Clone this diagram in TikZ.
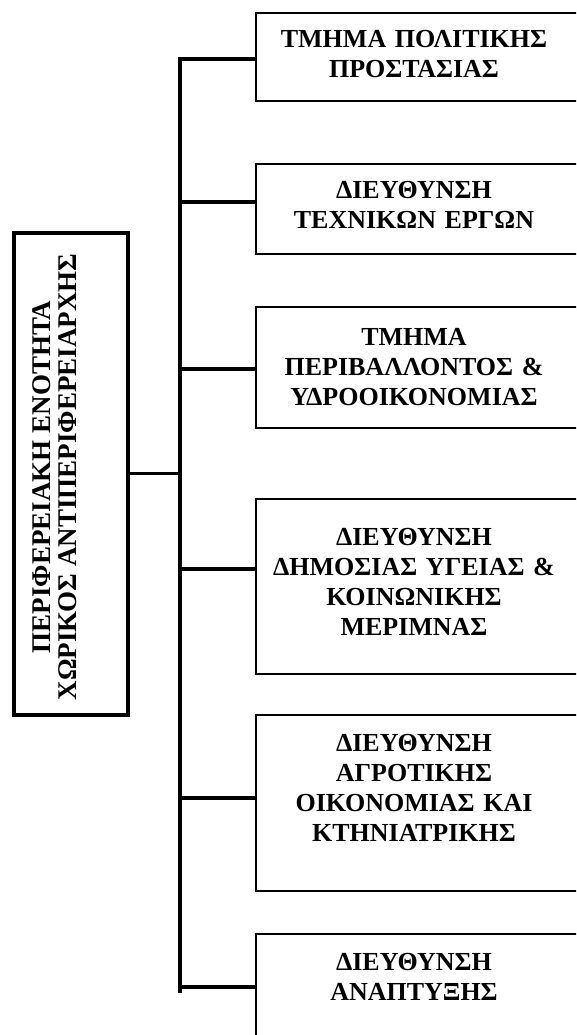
\documentclass[tikz,border=0pt]{standalone}
\usepackage{fontspec}
\setmainfont{Liberation Serif}
\usetikzlibrary{calc}

\tikzset{
    unit/.style={draw, line width=1.8pt, minimum width=330pt, anchor=north west},
    unittext/.style={font=\bfseries\fontsize{26}{30}\selectfont, text width=316pt, align=center, inner sep=0pt},
    link/.style={line width=3.2pt}
}

\begin{document}
\begin{tikzpicture}[x=1pt, y=-1pt]
        \useasboundingbox (0,0) rectangle (576,1035);
        \clip (0,0) rectangle (576,1035);

        %coordinates
        \coordinate (j1) at (180,59);
        \coordinate (j2) at (180,202);
        \coordinate (j3) at (180,369);
        \coordinate (j4) at (180,569);
        \coordinate (j5) at (180,798);
        \coordinate (j6) at (180,987);
        \coordinate (end) at (180,993);

        %nodes
        \node[draw, line width=3.5pt, minimum width=114pt, minimum height=482pt, anchor=north west] (hq) at (12,231) {};
        \node[rotate=90, font=\bfseries\fontsize{27}{26}\selectfont, align=center, inner sep=0pt] (hqt) at (55,477) {ΠΕΡΙΦΕΡΕΙΑΚΗ ΕΝΟΤΗΤΑ\\ΧΩΡΙΚΟΣ ΑΝΤΙΠΕΡΙΦΕΡΕΙΑΡΧΗΣ};

        \node[unit, minimum height=88pt] (b1) at (255,12) {};
        \node[unit, minimum height=90pt] (b2) at (255,163) {};
        \node[unit, minimum height=121pt] (b3) at (255,306) {};
        \node[unit, minimum height=175pt] (b4) at (255,498) {};
        \node[unit, minimum height=176pt] (b5) at (255,714) {};
        \node[unit, minimum height=150pt] (b6) at (255,933) {};

        \node[unittext] (t1) at (414,54.5) {ΤΜΗΜΑ ΠΟΛΙΤΙΚΗΣ\\ΠΡΟΣΤΑΣΙΑΣ};
        \node[unittext] (t2) at (414,205) {ΔΙΕΥΘΥΝΣΗ\\ΤΕΧΝΙΚΩΝ ΕΡΓΩΝ};
        \node[unittext] (t3) at (414,367.5) {ΤΜΗΜΑ\\ΠΕΡΙΒΑΛΛΟΝΤΟΣ \&\\ΥΔΡΟΟΙΚΟΝΟΜΙΑΣ};
        \node[unittext] (t4) at (414,582) {ΔΙΕΥΘΥΝΣΗ\\ΔΗΜΟΣΙΑΣ ΥΓΕΙΑΣ \&\\ΚΟΙΝΩΝΙΚΗΣ\\ΜΕΡΙΜΝΑΣ};
        \node[unittext] (t5) at (414,787.5) {ΔΙΕΥΘΥΝΣΗ\\ΑΓΡΟΤΙΚΗΣ\\ΟΙΚΟΝΟΜΙΑΣ ΚΑΙ\\ΚΤΗΝΙΑΤΡΙΚΗΣ};
        \node[unittext] (t6) at (414,977) {ΔΙΕΥΘΥΝΣΗ\\ΑΝΑΠΤΥΞΗΣ};

        %edges
        \draw[link] (hq.east) -- (hq.east -| j1);
        \draw[link] (j1 -| b1.west) -- (j1) -- (end);
        \draw[link] (j2) -- (j2 -| b2.west);
        \draw[link] (j3) -- (j3 -| b3.west);
        \draw[link] (j4) -- (j4 -| b4.west);
        \draw[link] (j5) -- (j5 -| b5.west);
        \draw[link] (j6) -- (j6 -| b6.west);
\end{tikzpicture}
\end{document}
